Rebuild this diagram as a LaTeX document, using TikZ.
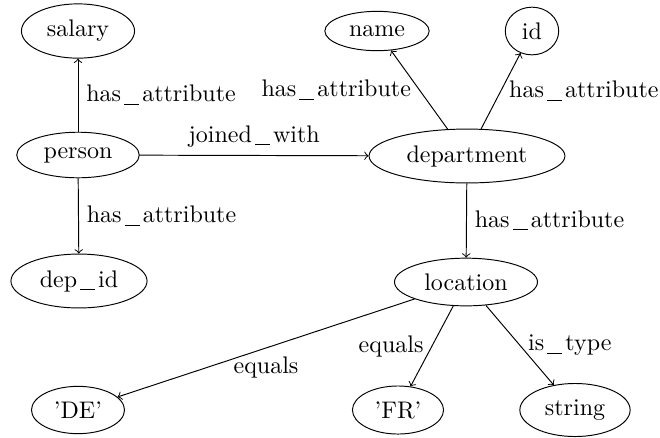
\documentclass[tikz,border=0pt]{standalone}
\usetikzlibrary{shapes.geometric}
\newcommand\usc{\kern1.3pt\rule[-1.3pt]{6.2pt}{0.4pt}\kern1.3pt}
\begin{document}
\begin{tikzpicture}[x=0.41667pt,y=-0.41667pt,
  ent/.style={draw, ellipse, inner xsep=3.7pt, inner ysep=3.5pt},
  rel/.style={->},
  lbl/.style={inner sep=3.3pt, midway}]
\useasboundingbox (0,0) rectangle (660,437);
\node[ent] (salary) at (78,31) {salary};
\node[ent] (person) at (78,155) {person};
\node[ent] (depid) at (79,281) {dep\usc id};
\node[ent] (de) at (78,410) {'DE'};
\node[ent] (name) at (377,31) {name};
\node[ent] (id) at (532,31) {id};
\node[ent] (dept) at (467,156) {department};
\node[ent] (loc) at (466,282) {location};
\node[ent] (fr) at (398,410) {'FR'};
\node[ent] (str) at (575,410) {string};
\draw[rel] (person) -- node[lbl, anchor=west] {has\usc attribute} (salary);
\draw[rel] (person) -- node[lbl, anchor=west] {has\usc attribute} (depid);
\draw[rel] (person) -- node[lbl, anchor=south] {joined\usc with} (dept);
\draw[rel] (dept) -- node[lbl, anchor=east] {has\usc attribute} (name);
\draw[rel] (dept) -- node[lbl, anchor=west] {has\usc attribute} (id);
\draw[rel] (dept) -- node[lbl, anchor=west] {has\usc attribute} (loc);
\draw[rel] (loc) -- node[lbl, anchor=north] {equals} (de);
\draw[rel] (loc) -- node[lbl, anchor=east] {equals} (fr);
\draw[rel] (loc) -- node[lbl, anchor=west] {is\usc type} (str);
\end{tikzpicture}
\end{document}
